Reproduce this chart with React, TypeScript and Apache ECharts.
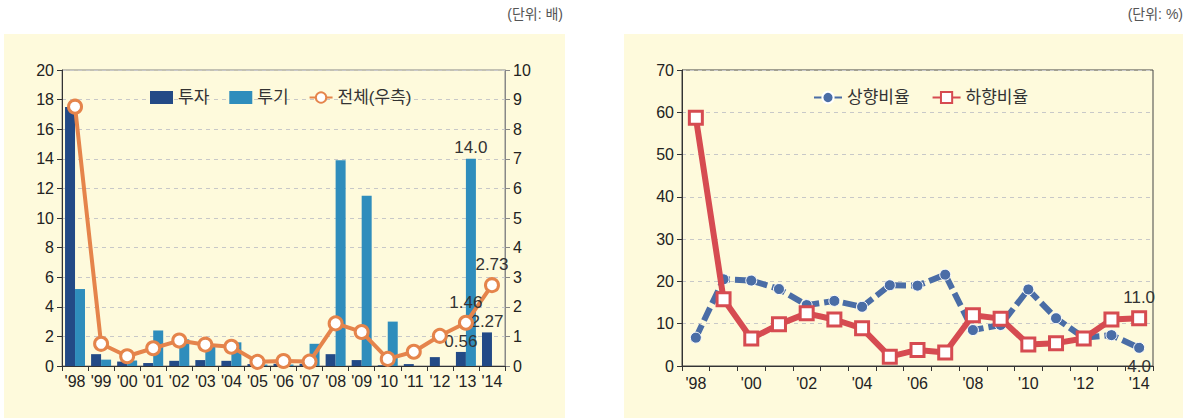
import React, { useEffect, useRef } from "react";
import * as echarts from "echarts";

const years = ["'98", "'99", "'00", "'01", "'02", "'03", "'04", "'05", "'06", "'07", "'08", "'09", "'10", "'11", "'12", "'13", "'14"];
const tuja = [17.5, 0.8, 0.3, 0.2, 0.35, 0.4, 0.35, 0.13, 0.15, 0.15, 0.8, 0.4, 0.05, 0.13, 0.6, 0.95, 2.27];
const tugi = [5.2, 0.43, 0.37, 2.4, 1.8, 1.3, 1.6, 0.1, 0.1, 1.5, 13.9, 11.5, 3.0, 0, 0, 14.0, 0];
const total = [8.76, 0.75, 0.33, 0.6, 0.86, 0.72, 0.65, 0.14, 0.17, 0.15, 1.44, 1.15, 0.24, 0.48, 1.02, 1.46, 2.73];
const tujaLabels: Record<number, string> = { 15: "0.56", 16: "2.27" };
const tugiLabels: Record<number, string> = { 15: "14.0" };
const totalLabels: Record<number, string> = { 15: "1.46", 16: "2.73" };

const upRatio = [6.7, 20.5, 20.2, 18.2, 14.4, 15.4, 14.0, 19.1, 19.0, 21.6, 8.5, 9.7, 18.1, 11.3, 6.7, 7.3, 4.3];
const downRatio = [58.7, 15.8, 6.5, 9.85, 12.45, 11.0, 8.9, 2.2, 3.8, 3.2, 12.0, 11.2, 5.1, 5.4, 6.5, 11.0, 11.3];
const upLabels: Record<number, string> = { 16: "4.0" };
const downLabels: Record<number, string> = { 16: "11.0" };

const FONT = "'Liberation Sans', Arial, 'Noto Sans CJK KR', sans-serif";
const BG = "#FEFADC";
const C_TUJA = "#234A86";
const C_TUGI = "#2F8DBC";
const C_TOTAL = "#E5844B";
const C_UP = "#4A6DA6";
const C_DOWN = "#D64B51";

function withLabels(values: number[], labels: Record<number, string>, pos: string, dist: number) {
  return values.map((v, i) =>
    labels[i] !== undefined
      ? {
          value: v,
          label: {
            show: true,
            position: pos,
            distance: dist,
            formatter: labels[i],
            fontSize: 17,
            color: "#333",
            fontFamily: FONT,
          },
        }
      : v
  );
}

export default function App() {
  const ref = useRef<HTMLDivElement>(null);
  useEffect(() => {
    if (!ref.current) return;
    const chart = echarts.init(ref.current, undefined, { renderer: "svg" });
    const axisLabel = { fontSize: 16, color: "#222", fontFamily: FONT };
    const option: any = {
      animation: false,
      textStyle: { fontFamily: FONT },
      graphic: [
        { type: "rect", z: -10, shape: { x: 4, y: 34, width: 561, height: 384 }, style: { fill: BG } },
        { type: "rect", z: -10, shape: { x: 624, y: 34, width: 559, height: 384 }, style: { fill: BG } },
        { type: "text", x: 563, y: 14, style: { text: "(단위: 배)", fill: "#555", fontSize: 14, fontFamily: FONT, textAlign: "right", textVerticalAlign: "middle" } },
        { type: "text", x: 1183, y: 14, style: { text: "(단위: %)", fill: "#555", fontSize: 14, fontFamily: FONT, textAlign: "right", textVerticalAlign: "middle" } },
      ],
      legend: [
        {
          left: 145,
          top: 84,
          itemWidth: 23,
          itemHeight: 13,
          itemGap: 20,
          textStyle: { fontSize: 17, color: "#333", fontFamily: FONT },
          data: [
            { name: "투자", icon: "rect" },
            { name: "투기", icon: "rect" },
            { name: "전체(우측)" },
          ],
        },
        {
          left: 808,
          top: 84,
          itemWidth: 28,
          itemHeight: 14,
          itemGap: 22,
          textStyle: { fontSize: 17, color: "#333", fontFamily: FONT },
          data: ["상향비율", "하향비율"],
        },
      ],
      grid: [
        { left: 62, top: 70, width: 443, height: 296, show: true, borderColor: "#888", borderWidth: 1, backgroundColor: "transparent" },
        { left: 682, top: 70, width: 471, height: 296, show: true, borderColor: "#444", borderWidth: 1, backgroundColor: "transparent" },
      ],
      xAxis: [
        {
          type: "category",
          gridIndex: 0,
          data: years,
          boundaryGap: true,
          axisLine: { lineStyle: { color: "#333" } },
          axisTick: { show: true, length: 5, lineStyle: { color: "#333" } },
          axisLabel: { ...axisLabel, margin: 7, interval: 0 },
        },
        {
          type: "category",
          gridIndex: 1,
          data: years,
          boundaryGap: true,
          axisLine: { lineStyle: { color: "#333" } },
          axisTick: { show: true, length: 5, interval: 0, lineStyle: { color: "#333" } },
          axisLabel: { ...axisLabel, margin: 9, interval: 1 },
        },
      ],
      yAxis: [
        {
          type: "value",
          gridIndex: 0,
          min: 0,
          max: 20,
          interval: 2,
          axisLine: { show: true, lineStyle: { color: "#333" } },
          axisTick: { show: true, length: 5, lineStyle: { color: "#333" } },
          axisLabel: { ...axisLabel, margin: 8 },
          splitLine: { lineStyle: { type: [4, 4], color: "#c8c8c8" } },
        },
        {
          type: "value",
          gridIndex: 0,
          position: "right",
          min: 0,
          max: 10,
          interval: 1,
          axisLine: { show: true, lineStyle: { color: "#888" } },
          axisTick: { show: true, length: 5, lineStyle: { color: "#888" } },
          axisLabel: { ...axisLabel, margin: 8 },
          splitLine: { show: false },
        },
        {
          type: "value",
          gridIndex: 1,
          min: 0,
          max: 70,
          interval: 10,
          axisLine: { show: true, lineStyle: { color: "#333" } },
          axisTick: { show: true, length: 5, lineStyle: { color: "#333" } },
          axisLabel: { ...axisLabel, margin: 8 },
          splitLine: { lineStyle: { type: [4, 4], color: "#c8c8c8" } },
        },
      ],
      series: [
        {
          name: "투자",
          type: "bar",
          xAxisIndex: 0,
          yAxisIndex: 0,
          barWidth: 10,
          barGap: "0%",
          itemStyle: { color: C_TUJA },
          data: withLabels(tuja, tujaLabels, "top", 2),
        },
        {
          name: "투기",
          type: "bar",
          xAxisIndex: 0,
          yAxisIndex: 0,
          barWidth: 10,
          barGap: "0%",
          itemStyle: { color: C_TUGI },
          data: withLabels(tugi, tugiLabels, "top", 3),
        },
        {
          name: "전체(우측)",
          type: "line",
          xAxisIndex: 0,
          yAxisIndex: 1,
          symbol: "circle",
          symbolSize: 13,
          lineStyle: { color: C_TOTAL, width: 4 },
          itemStyle: { color: "#fff", borderColor: C_TOTAL, borderWidth: 3 },
          z: 5,
          data: withLabels(total, totalLabels, "top", 4),
        },
        {
          name: "상향비율",
          type: "line",
          xAxisIndex: 1,
          yAxisIndex: 2,
          symbol: "circle",
          symbolSize: 11,
          lineStyle: { color: C_UP, width: 6, type: [14, 5] },
          itemStyle: { color: C_UP, borderColor: "#fff", borderWidth: 1 },
          data: withLabels(upRatio, upLabels, "bottom", 4),
        },
        {
          name: "하향비율",
          type: "line",
          xAxisIndex: 1,
          yAxisIndex: 2,
          symbol: "rect",
          symbolSize: 13,
          lineStyle: { color: C_DOWN, width: 6 },
          itemStyle: { color: "#fff", borderColor: C_DOWN, borderWidth: 3 },
          z: 4,
          data: withLabels(downRatio, downLabels, "top", 4),
        },
      ],
    };
    chart.setOption(option);
    return () => chart.dispose();
  }, []);
  return (
    <div
      ref={ref}
      style={{ position: "absolute", left: 0, top: 0, width: 1193, height: 418, background: "#fff" }}
    />
  );
}
